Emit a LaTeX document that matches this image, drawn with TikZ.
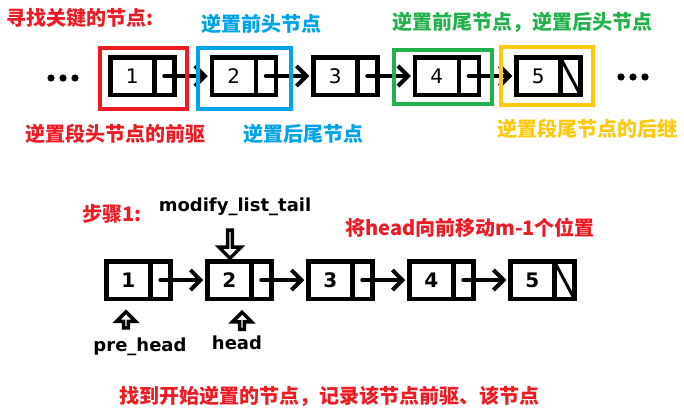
\documentclass[tikz,border=0pt]{standalone}
\usepackage{fontspec}
\setmainfont{DejaVu Sans}
\newfontfamily\cjk{Noto Sans CJK SC Black}
\usetikzlibrary{arrows.meta,positioning,shapes.arrows}
\definecolor{lkred}{RGB}{237,28,36}
\definecolor{lkblue}{RGB}{0,162,232}
\definecolor{lkgreen}{RGB}{34,177,76}
\definecolor{lkyellow}{RGB}{255,201,14}

\begin{document}
\begin{tikzpicture}[x=1pt,y=-1pt,
  datbox/.style={draw,line width=4.5pt,minimum width=44pt,minimum height=37.5pt,
    inner sep=0pt,outer sep=0pt,font=\fontsize{20}{20}\selectfont},
  ptrbox/.style={draw,line width=4.5pt,minimum width=20pt,minimum height=37.5pt,
    inner sep=0pt,outer sep=0pt},
  link/.style={line width=4pt,line cap=round,shorten >=4pt,
    -{Straight Barb[length=10pt,width=20pt,line width=4pt]}},
  frame/.style={line width=4.5pt},
  ctxt/.style={inner sep=0pt,font=\cjk\fontsize{20}{24}\selectfont},
  ltxt/.style={inner sep=0pt,font=\bfseries\fontsize{18}{20}\selectfont},
  hollow/.style={single arrow,draw,fill=white,line width=3.5pt,inner sep=0pt,
    single arrow head indent=0pt}]
  \fill[white] (0,0) rectangle (684,413);
  \useasboundingbox (0,0) rectangle (684,413);
  % upper list
  \foreach \i in {1,...,5}{
    \node[datbox] (t\i) at ({132.25+101.5*(\i-1)},76) {\i};
    \node[ptrbox,right=0pt of t\i] (tp\i) {};
  }
  \foreach \i/\j in {1/2,2/3,3/4,4/5}
    \draw[link] (tp\i.center) -- (t\j.west);
  \draw[line width=3pt] (tp5.north west) -- (tp5.south east);
  \foreach \x in {51,63,75}
    \fill (\x,78) circle (3.6);
  \foreach \x in {621,633,645}
    \fill (\x,77) circle (3.6);
  \draw[frame,lkred] (100,48) rectangle (187,109);
  \draw[frame,lkblue] (198,48) rectangle (291,109);
  \draw[frame,lkgreen] (394,50) rectangle (492,104);
  \draw[frame,lkyellow] (501,47) rectangle (593,105);
  \node[ctxt,lkred] (findlbl) at (80,18) {寻找关键的节点:};
  \node[ctxt,lkblue] (prehead) at (261,24) {逆置前头节点};
  \node[ctxt,lkgreen] (pretail) at (522,22) {逆置前尾节点，逆置后头节点};
  \node[ctxt,lkred] (segpre) at (115,134) {逆置段头节点的前驱};
  \node[ctxt,lkblue] (posttail) at (303,134) {逆置后尾节点};
  \node[ctxt,lkyellow] (segpost) at (587,129) {逆置段尾节点的后继};
  % lower list
  \foreach \i in {1,...,5}{
    \node[datbox,font=\bfseries\fontsize{20}{20}\selectfont] (b\i) at ({128.25+101*(\i-1)},280) {\i};
    \node[ptrbox,right=0pt of b\i] (bp\i) {};
  }
  \foreach \i/\j in {1/2,2/3,3/4,4/5}
    \draw[link] (bp\i.center) -- (b\j.west);
  \draw[line width=3pt] (bp5.north west) -- (bp5.south east);
  \node[hollow,shape border rotate=270,minimum height=28pt,minimum width=22pt,
    single arrow head extend=6pt] (tailarr) at (230,243) {};
  \node[hollow,shape border rotate=90,minimum height=16pt,minimum width=19pt,
    single arrow head extend=5pt] (prearr) at (126,321) {};
  \node[hollow,shape border rotate=90,minimum height=17pt,minimum width=19pt,
    single arrow head extend=5pt] (headarr) at (242,322) {};
  \node[ctxt,lkred] (steplbl) at (112,214) {步骤1:};
  \node[ltxt] (taillbl) at (235,207) {modify\_list\_tail};
  \node[ctxt,lkred] (movelbl) at (470,228) {将head向前移动m-1个位置};
  \node[ltxt] (prelbl) at (140,347) {pre\_head};
  \node[ltxt] (headlbl) at (237,343) {head};
  \node[ctxt,lkred] (notelbl) at (329,396) {找到开始逆置的节点，记录该节点前驱、该节点};
\end{tikzpicture}
\end{document}
